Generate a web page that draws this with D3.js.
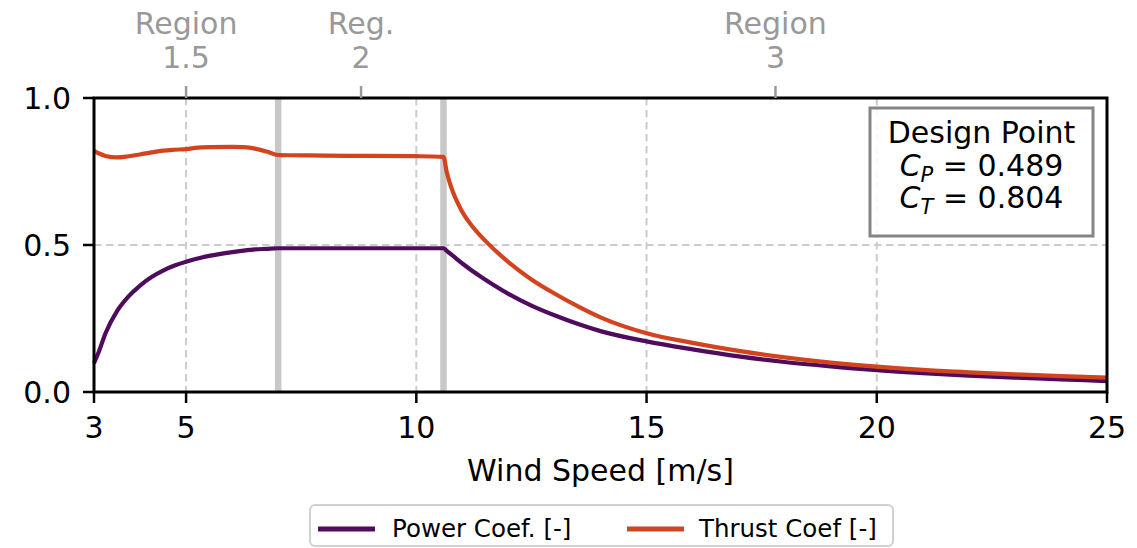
<!DOCTYPE html>
<html>
<head>
<meta charset="utf-8">
<script src="https://cdn.jsdelivr.net/npm/d3@7"></script>
<style>
  body { margin: 0; background: #fff; }
  svg { display: block; font-family: "DejaVu Sans", sans-serif; }
</style>
</head>
<body>
<svg id="chart" width="1137" height="548"></svg>
<script>
// ---- data ----
const windSpeed = [3.0, 3.1, 3.25, 3.5, 3.75, 4.0, 4.25, 4.5, 4.75, 5.0, 5.25, 5.5, 6.0, 6.25, 6.5, 6.75, 7.0, 7.5, 8.0, 9.0, 10.0, 10.59, 10.66, 10.75, 11.0, 11.25, 11.5, 12.0, 12.5, 13.0, 13.5, 14.0, 15.0, 16.0, 17.0, 18.0, 19.0, 20.0, 21.0, 22.0, 23.0, 24.0, 25.0];
const powerCoef = [0.098, 0.135, 0.200, 0.275, 0.325, 0.362, 0.391, 0.413, 0.430, 0.443, 0.454, 0.463, 0.476, 0.481, 0.485, 0.487, 0.489, 0.489, 0.489, 0.489, 0.489, 0.489, 0.480, 0.469, 0.437, 0.408, 0.382, 0.334, 0.294, 0.261, 0.232, 0.207, 0.172, 0.145, 0.121, 0.102, 0.087, 0.074, 0.064, 0.056, 0.049, 0.043, 0.037];
const thrustCoef = [0.820, 0.812, 0.803, 0.798, 0.802, 0.808, 0.815, 0.821, 0.824, 0.826, 0.831, 0.833, 0.834, 0.833, 0.828, 0.818, 0.806, 0.805, 0.804, 0.803, 0.802, 0.800, 0.748, 0.700, 0.612, 0.557, 0.514, 0.442, 0.383, 0.335, 0.292, 0.254, 0.200, 0.167, 0.140, 0.118, 0.100, 0.086, 0.075, 0.067, 0.060, 0.054, 0.049];
const xTicks = [3, 5, 10, 15, 20, 25];
const yTicks = [0.0, 0.5, 1.0];
const regionBounds = [7.0, 10.59];
const regionTicks = [5.0, 8.8, 17.8];
const regionLabels = [["Region", "1.5"], ["Reg.", "2"], ["Region", "3"]];
const seriesNames = ["Power Coef. [-]", "Thrust Coef [-]"];
const seriesColors = ["#500c5c", "#d1441f"];
const designLines = ["Design Point", ["C", "P", "0.489"], ["C", "T", "0.804"]];

// ---- layout ----
const svg = d3.select("#chart");
const L = 94, R = 1107, T = 98, B = 392;
const x = d3.scaleLinear().domain([3, 25]).range([L, R]);
const y = d3.scaleLinear().domain([0, 1]).range([B, T]);
const FS = 30;

// grid
const grid = svg.append("g");
grid.selectAll("line.vg").data(xTicks).join("line")
  .attr("x1", d => x(d)).attr("x2", d => x(d)).attr("y1", T).attr("y2", B)
  .attr("stroke", "#cccccc").attr("stroke-width", 2).attr("stroke-dasharray", "7.5,4.5");
grid.selectAll("line.hg").data(yTicks).join("line")
  .attr("x1", L).attr("x2", R).attr("y1", d => y(d)).attr("y2", d => y(d))
  .attr("stroke", "#cccccc").attr("stroke-width", 2).attr("stroke-dasharray", "7.5,4.5");

// region boundaries
svg.append("g").selectAll("line").data(regionBounds).join("line")
  .attr("x1", d => x(d)).attr("x2", d => x(d)).attr("y1", T).attr("y2", B)
  .attr("stroke", "#c8c8c8").attr("stroke-width", 6.5);

// lines
const pts = windSpeed.map((w, i) => ({w, cp: powerCoef[i], ct: thrustCoef[i]}));
const lineCP = d3.line().x(d => x(d.w)).y(d => y(d.cp)).curve(d3.curveMonotoneX);
const lineCT = d3.line().x(d => x(d.w)).y(d => y(d.ct)).curve(d3.curveMonotoneX);
svg.append("path").datum(pts).attr("d", lineCP).attr("fill", "none")
  .attr("stroke", seriesColors[0]).attr("stroke-width", 4.2).attr("stroke-linejoin", "round");
svg.append("path").datum(pts).attr("d", lineCT).attr("fill", "none")
  .attr("stroke", seriesColors[1]).attr("stroke-width", 4.2).attr("stroke-linejoin", "round");

// design point box
const bx = 870, by = 108, bw = 223, bh = 128;
svg.append("rect").attr("x", bx).attr("y", by).attr("width", bw).attr("height", bh)
  .attr("fill", "#fff").attr("fill-opacity", 0.85)
  .attr("stroke", "#858585").attr("stroke-width", 3);
const cx = bx + bw / 2;
svg.append("text").attr("x", cx).attr("y", 143).attr("text-anchor", "middle")
  .attr("font-size", FS).attr("fill", "#000").text(designLines[0]);
[[designLines[1], 176], [designLines[2], 208]].forEach(([parts, yy]) => {
  const t = svg.append("text").attr("x", cx).attr("y", yy).attr("text-anchor", "middle")
    .attr("font-size", FS).attr("fill", "#000").attr("xml:space", "preserve");
  t.append("tspan").attr("font-style", "italic").text(parts[0]);
  t.append("tspan").attr("font-style", "italic").attr("font-size", 21).attr("dy", 6).text(parts[1]);
  t.append("tspan").attr("dy", -6).text(" = " + parts[2]);
});

// spines
svg.append("rect").attr("x", L).attr("y", T).attr("width", R - L).attr("height", B - T)
  .attr("fill", "none").attr("stroke", "#000").attr("stroke-width", 3);

// bottom axis
const xAxis = svg.append("g");
xAxis.selectAll("line").data(xTicks).join("line")
  .attr("x1", d => x(d)).attr("x2", d => x(d)).attr("y1", B).attr("y2", B + 11)
  .attr("stroke", "#000").attr("stroke-width", 2.5);
xAxis.selectAll("text").data(xTicks).join("text")
  .attr("x", d => x(d)).attr("y", 438).attr("text-anchor", "middle")
  .attr("font-size", FS).attr("fill", "#000").text(d => d);

// left axis
const yAxis = svg.append("g");
yAxis.selectAll("line").data(yTicks).join("line")
  .attr("x1", L - 11).attr("x2", L).attr("y1", d => y(d)).attr("y2", d => y(d))
  .attr("stroke", "#000").attr("stroke-width", 2.5);
yAxis.selectAll("text").data(yTicks).join("text")
  .attr("x", 71).attr("y", d => y(d)).attr("dy", "0.36em").attr("text-anchor", "end")
  .attr("font-size", FS).attr("fill", "#000").text(d => d3.format(".1f")(d));

// top region axis
const topAxis = svg.append("g");
topAxis.selectAll("line").data(regionTicks).join("line")
  .attr("x1", d => x(d)).attr("x2", d => x(d)).attr("y1", T - 12).attr("y2", T)
  .attr("stroke", "#999999").attr("stroke-width", 2.5);
topAxis.selectAll("text").data(regionTicks).join("text")
  .attr("x", d => x(d)).attr("y", 34).attr("text-anchor", "middle")
  .attr("font-size", FS).attr("fill", "#999999")
  .each(function(d, i) {
    const t = d3.select(this);
    t.append("tspan").attr("x", x(d)).attr("y", 34).text(regionLabels[i][0]);
    t.append("tspan").attr("x", x(d)).attr("y", 68).text(regionLabels[i][1]);
  });

// x label
svg.append("text").attr("x", (L + R) / 2).attr("y", 481).attr("text-anchor", "middle")
  .attr("font-size", FS).attr("fill", "#000").text("Wind Speed [m/s]");

// legend
const lg = svg.append("g");
lg.append("rect").attr("x", 310).attr("y", 505).attr("width", 583).attr("height", 41)
  .attr("rx", 5).attr("fill", "#fff").attr("stroke", "#d0d0d0").attr("stroke-width", 2);
const legItems = [{x0: 318, tx: 392}, {x0: 627, tx: 699}];
legItems.forEach((it, i) => {
  lg.append("line").attr("x1", it.x0).attr("x2", it.x0 + 57).attr("y1", 529).attr("y2", 529)
    .attr("stroke", seriesColors[i]).attr("stroke-width", 5);
  lg.append("text").attr("x", it.tx).attr("y", 537).attr("font-size", 24.5)
    .attr("fill", "#000").text(seriesNames[i]);
});
</script>
</body>
</html>
